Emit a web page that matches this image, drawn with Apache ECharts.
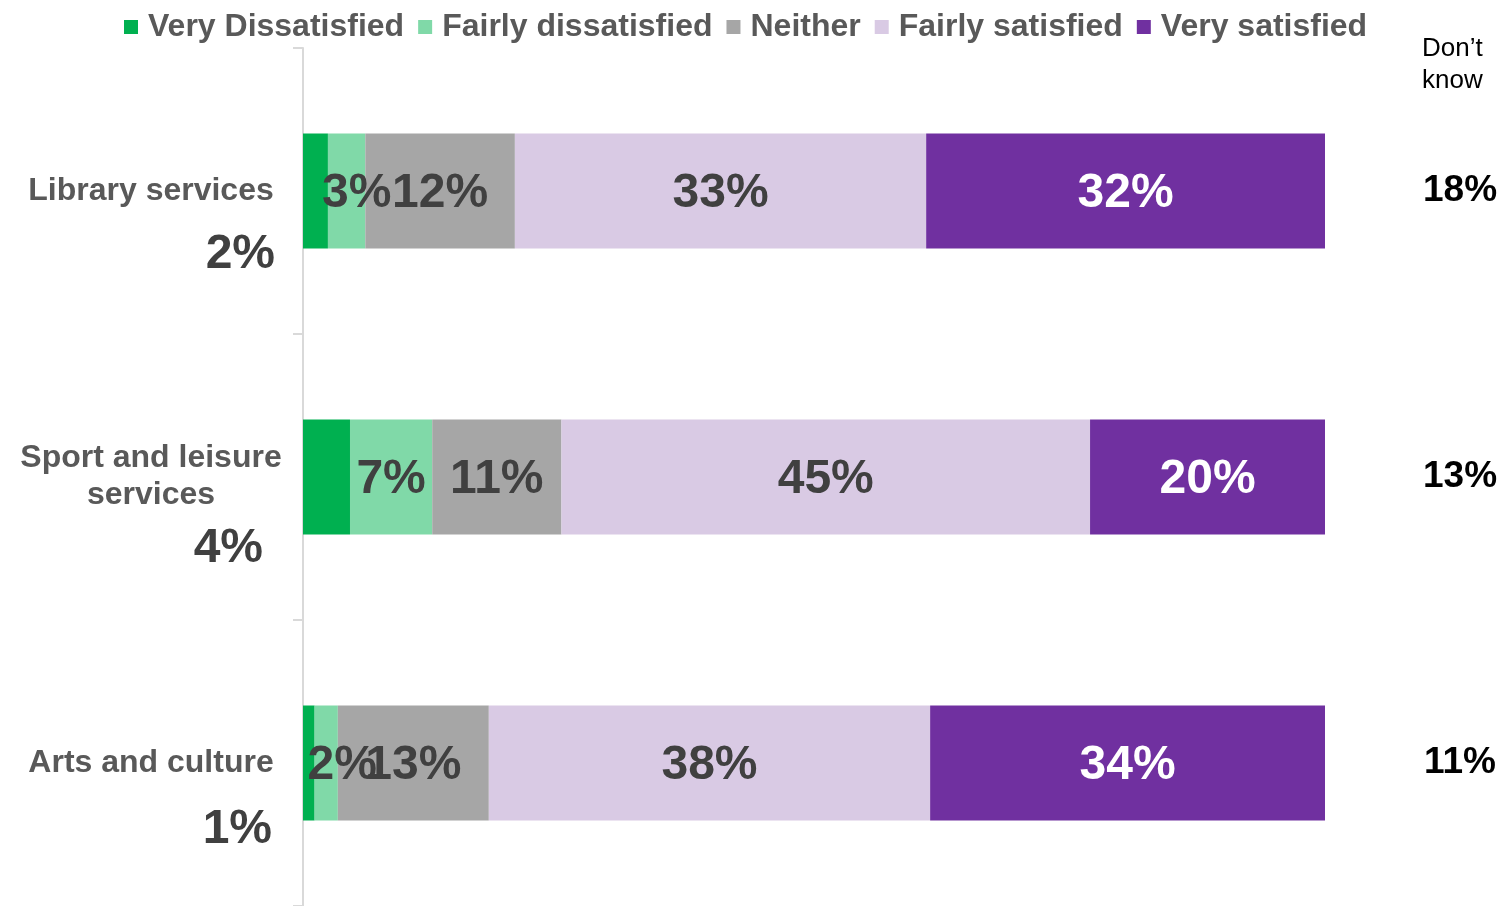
<!DOCTYPE html>
<html>
<head>
<meta charset="utf-8">
<style>
  html, body { margin: 0; padding: 0; background: #fff; }
  #chart { width: 1501px; height: 906px; }
</style>
<script src="https://cdn.jsdelivr.net/npm/echarts@6/dist/echarts.min.js"></script>
</head>
<body>
<div id="chart"></div>
<script>
// 满意度数据（百分比，不含“不知道”）
var categories = ['Library services', 'Sport and leisure\nservices', 'Arts and culture'];
var seriesNames = ['Very Dissatisfied', 'Fairly dissatisfied', 'Neither', 'Fairly satisfied', 'Very satisfied'];
var veryDissatisfied = [2, 4, 1];
var fairlyDissatisfied = [3, 7, 2];
var neither = [12, 11, 13];
var fairlySatisfied = [33, 45, 38];
var verySatisfied = [32, 20, 34];
var dontKnow = [18, 13, 11];

var colors = ['#00B050', '#80D9A8', '#A6A6A6', '#D9CAE4', '#7030A0'];
var rows = [veryDissatisfied, fairlyDissatisfied, neither, fairlySatisfied, verySatisfied];

// 每行按已回答的总数归一化，标签仍显示原始百分比
var totals = categories.map(function (c, i) {
  return rows.reduce(function (s, r) { return s + r[i]; }, 0);
});

// “非常不满意”的标签放在类目名下方
var vdLabelPos = [[-28, 121], [-40, 129], [-31, 124]];
// 窄段标签稍微右移
var fdLabelOffset = [[10, 3], [0, 3], [16, 3]];

var series = rows.map(function (r, k) {
  return {
    name: seriesNames[k],
    type: 'bar',
    stack: 'total',
    barWidth: 115,
    itemStyle: { color: colors[k] },
    label: {
      show: true,
      position: 'inside',
      offset: [0, 3],
      fontSize: 48,
      fontWeight: 'bold',
      fontFamily: 'Liberation Sans, Arial, sans-serif',
      color: k === 4 ? '#ffffff' : '#404040',
      formatter: function (p) { return p.data.raw + '%'; }
    },
    data: r.map(function (v, i) {
      var item = { value: v / totals[i] * 100, raw: v };
      if (k === 0) {
        item.label = { position: vdLabelPos[i], offset: [0, 0], align: 'right', verticalAlign: 'middle' };
      } else if (k === 1) {
        item.label = { offset: fdLabelOffset[i] };
      }
      return item;
    })
  };
});

var myChart = echarts.init(document.getElementById('chart'));
var option = {
  backgroundColor: '#fff',
  animation: false,
  textStyle: { fontFamily: 'Liberation Sans, Arial, sans-serif' },
  legend: {
    top: 11,
    left: 124,
    padding: 0,
    itemWidth: 14,
    itemHeight: 14,
    itemGap: 14,
    icon: 'rect',
    data: seriesNames,
    textStyle: {
      fontSize: 32,
      fontWeight: 'bold',
      color: '#595959',
      padding: [0, 0, 0, 5]
    }
  },
  grid: {
    left: 303,
    top: 48,
    width: 1022,
    height: 864
  },
  xAxis: {
    type: 'value',
    min: 0,
    max: 100,
    show: false
  },
  yAxis: [{
    type: 'category',
    inverse: true,
    data: categories,
    axisLine: { show: true, lineStyle: { color: '#D9D9D9', width: 2 } },
    axisTick: { show: true, length: 10, lineStyle: { color: '#D9D9D9', width: 2 } },
    axisLabel: {
      margin: 152,
      align: 'center',
      fontSize: 32,
      fontWeight: 'bold',
      lineHeight: 37,
      padding: [5, 0, 0, 0],
      color: '#595959'
    }
  }, {
    type: 'category',
    position: 'right',
    inverse: true,
    data: dontKnow.map(function (v) { return v + '%'; }),
    axisLine: { show: false },
    axisTick: { show: false },
    axisLabel: {
      margin: 135,
      align: 'center',
      fontSize: 37,
      fontWeight: 'bold',
      color: '#000'
    }
  }],
  graphic: [{
    type: 'text',
    left: 1422,
    top: 33,
    style: {
      text: 'Don\u2019t\nknow',
      font: '26px Liberation Sans, Arial, sans-serif',
      lineHeight: 32,
      fill: '#000'
    }
  }],
  series: series
};
myChart.setOption(option);
</script>
</body>
</html>
